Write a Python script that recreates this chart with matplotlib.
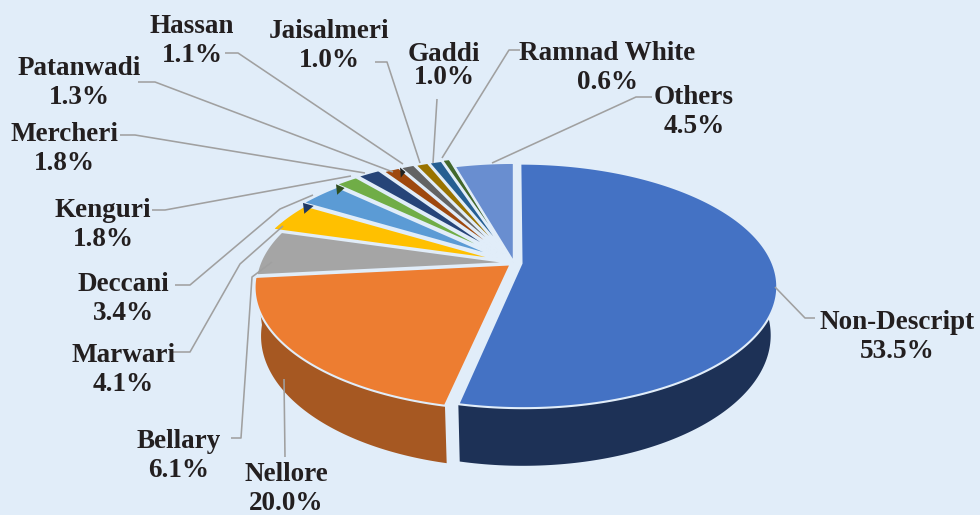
import numpy as np
import matplotlib
matplotlib.use("Agg")
import matplotlib.pyplot as plt

# ---- data ----
names = ["Non-Descript", "Nellore", "Bellary", "Marwari", "Deccani", "Kenguri", "Mercheri",
         "Patanwadi", "Hassan", "Jaisalmeri", "Gaddi", "Ramnad White", "Others"]
values = [53.5, 20.0, 6.1, 4.1, 3.4, 1.8, 1.8, 1.3, 1.1, 1.0, 1.0, 0.6, 4.5]

# ---- style ----
colors = ["#4472C4", "#ED7D31", "#A5A5A5", "#FFC000", "#5B9BD5", "#70AD47", "#264478",
          "#9E480E", "#636363", "#997300", "#255E91", "#43682B", "#698ED0"]
side_colors = {0: "#1D3156", 1: "#A65822"}
notch_colors = {4: "#1F3864", 5: "#2F4F1F", 8: "#222222"}
explode = [0.03, 0.018, 0.012, 0.06, 0.085, 0.11, 0.115, 0.09, 0.09, 0.085, 0.085, 0.095, 0.005]
BG = "#E1EDF9"
LINE = "#A0A0A0"
TXT = "#231F20"

cx, cy, R, T, P, D, TAPER = 514, 263, 251, 118, 0.184, 47, 0.025

label_pos = [(897, 337), (286, 489), (179, 456), (123, 370), (123, 299), (103, 225), (64, 149),
             (79, 83), (192, 41), (329, 46), (444, 66), (607, 68), (694, 112)]
label_spacing = [1.22, 1.22, 1.22, 1.22, 1.22, 1.22, 1.22, 1.22, 1.22, 1.22, 0.92, 1.22, 1.22]
leaders = [
    [(775, 287), (805, 318), (815, 318)],
    [(284, 379), (285, 457)],
    [(272, 262), (252, 277), (241, 438), (231, 438)],
    [(283, 226), (240, 264), (190, 352), (173, 352)],
    [(313, 195), (280, 209), (190, 285), (175, 285)],
    [(351, 176), (165, 210), (152, 210)],
    [(365, 173), (135, 135), (120, 135)],
    [(393, 172), (155, 82), (138, 82)],
    [(403, 164), (238, 53), (225, 53)],
    [(420, 163), (387, 62), (375, 62)],
    [(433, 163), (437, 99)],
    [(442, 158), (509, 50), (520, 50)],
    [(492, 163), (636, 97), (652, 97)],
]


def project(r, a, mid, e, depth=0.0):
    u = r * np.sin(a) + e * np.sin(mid)
    v = -r * np.cos(a) - e * np.cos(mid)
    w = 1 - P * v
    s = 1 - TAPER * depth / D
    return cx + R * u / w * s, cy + T * v / w + depth / w


fig = plt.figure(figsize=(9.8, 5.15), dpi=100, facecolor=BG)
ax = fig.add_axes([0, 0, 1, 1])
ax.set_xlim(0, 980)
ax.set_ylim(515, 0)
ax.axis("off")

edges = np.radians(np.concatenate([[0], np.cumsum(values)]) / sum(values) * 360)

# sides first
for i, c in side_colors.items():
    a0, a1 = edges[i], edges[i + 1]
    mid = (a0 + a1) / 2
    a = np.linspace(a0, a1, 200)
    xt, yt = project(1, a, mid, explode[i])
    xb, yb = project(1, a, mid, explode[i], D)
    ax.fill(np.r_[xt, xb[::-1]], np.r_[yt, yb[::-1]], color=c, lw=0, zorder=1)

# top faces
for i, (val, c) in enumerate(zip(values, colors)):
    a0, a1 = edges[i], edges[i + 1]
    mid = (a0 + a1) / 2
    a = np.linspace(a0, a1, 200)
    x, y = project(1, a, mid, explode[i])
    ax_, ay_ = project(0, mid, mid, explode[i])
    ax.fill(np.r_[ax_, x], np.r_[ay_, y], facecolor=c, edgecolor=BG, lw=1.5,
            joinstyle="miter", zorder=2)

# small dark notches at the corners of the back slices
for i, c in notch_colors.items():
    a0 = edges[i]
    mid = (a0 + edges[i + 1]) / 2
    p1 = project(1.0, a0, mid, explode[i])
    p2 = project(1.0, a0, mid, explode[i], 12)
    p3 = project(0.94, a0, mid, explode[i])
    ax.fill([p1[0], p2[0], p3[0]], [p1[1], p2[1], p3[1]], color=c, lw=0, zorder=3)

# leaders and labels
for pts in leaders:
    xs, ys = zip(*pts)
    ax.plot(xs, ys, color=LINE, lw=1.15, zorder=4, solid_capstyle="butt")

for name, val, (x, y), ls in zip(names, values, label_pos, label_spacing):
    ax.text(x, y, f"{name}\n{val:.1f}%", ha="center", va="center", color=TXT,
            family="Liberation Serif", weight="bold", fontsize=19.5, linespacing=ls, zorder=5)

fig.savefig("out.png", dpi=100, facecolor=BG)
